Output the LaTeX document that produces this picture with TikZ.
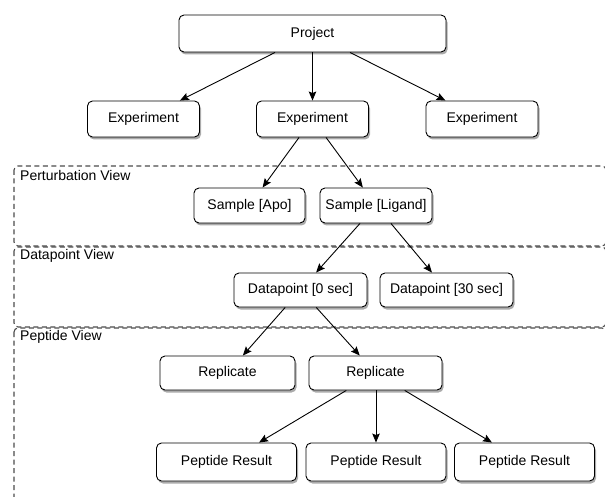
\documentclass[tikz,border=0pt]{standalone}
\usepackage{fontspec}
\setmainfont{Liberation Sans}
\usetikzlibrary{arrows.meta,shadows}
\begin{document}
\begin{tikzpicture}[x=1pt,y=-1pt,
  box/.style={draw=black,line width=0.9pt,fill=white,rounded corners=5pt,
    minimum height=36pt,inner sep=0pt,font=\fontsize{14}{16}\selectfont,
    drop shadow={shadow xshift=1.5pt,shadow yshift=-2.5pt,fill=black!55,opacity=0.6}},
  conn/.style={line width=0.9pt,-{Stealth[length=9pt,width=7.5pt,inset=1.5pt]}},
  viewbox/.style={draw=black!70,line width=1.1pt,dash pattern=on 5pt off 3.5pt,rounded corners=4pt},
  viewlabel/.style={anchor=west,inner sep=0pt,font=\fontsize{14}{16}\selectfont}]
\useasboundingbox (0,0) rectangle (605,497);
% view boxes
\draw[viewbox] (14,166) rectangle (606,246);
\draw[viewbox] (14,247) rectangle (606,327);
\draw[viewbox] (14,328) rectangle (606,520);
\node[viewlabel] (lpert) at (20,175) {Perturbation View};
\node[viewlabel] (ldata) at (20,256) {Datapoint View};
\node[viewlabel] (lpep) at (20,337) {Peptide View};
% nodes
\node[box,minimum width=267pt,minimum height=37pt] (proj) at (312.5,33.5) {Project};
\node[box,minimum width=112pt] (expL) at (143.5,119) {Experiment};
\node[box,minimum width=112pt] (expC) at (312.5,119) {Experiment};
\node[box,minimum width=112pt] (expR) at (482,119) {Experiment};
\node[box,minimum width=111pt,minimum height=35pt] (sapo) at (249.5,205.5) {Sample [Apo]};
\node[box,minimum width=112pt,minimum height=35pt] (slig) at (376,205.5) {Sample [Ligand]};
\node[box,minimum width=133pt,minimum height=34pt] (dp0) at (300.5,290) {Datapoint [0 sec]};
\node[box,minimum width=133pt,minimum height=34pt] (dp30) at (446.5,290) {Datapoint [30 sec]};
\node[box,minimum width=135pt,minimum height=34pt] (repL) at (227.5,373) {Replicate};
\node[box,minimum width=133pt,minimum height=34pt] (repR) at (375.5,373) {Replicate};
\node[box,minimum width=140pt,minimum height=38pt] (pr1) at (226.5,462) {Peptide Result};
\node[box,minimum width=140pt,minimum height=38pt] (pr2) at (376,462) {Peptide Result};
\node[box,minimum width=140pt,minimum height=38pt] (pr3) at (524.5,462) {Peptide Result};
% connectors
\draw[conn] (proj) -- (expL);
\draw[conn] (proj.south -| expC) -- (expC);
\draw[conn] (proj) -- (expR);
\draw[conn] (expC) -- (sapo);
\draw[conn] (expC) -- (slig);
\draw[conn] (slig) -- (dp0);
\draw[conn] (slig) -- (dp30);
\draw[conn] (dp0) -- (repL);
\draw[conn] (dp0) -- (repR);
\draw[conn] (repR) -- (pr1);
\draw[conn] (repR.south -| pr2) -- (pr2);
\draw[conn] (repR) -- (pr3);
\end{tikzpicture}
\end{document}
